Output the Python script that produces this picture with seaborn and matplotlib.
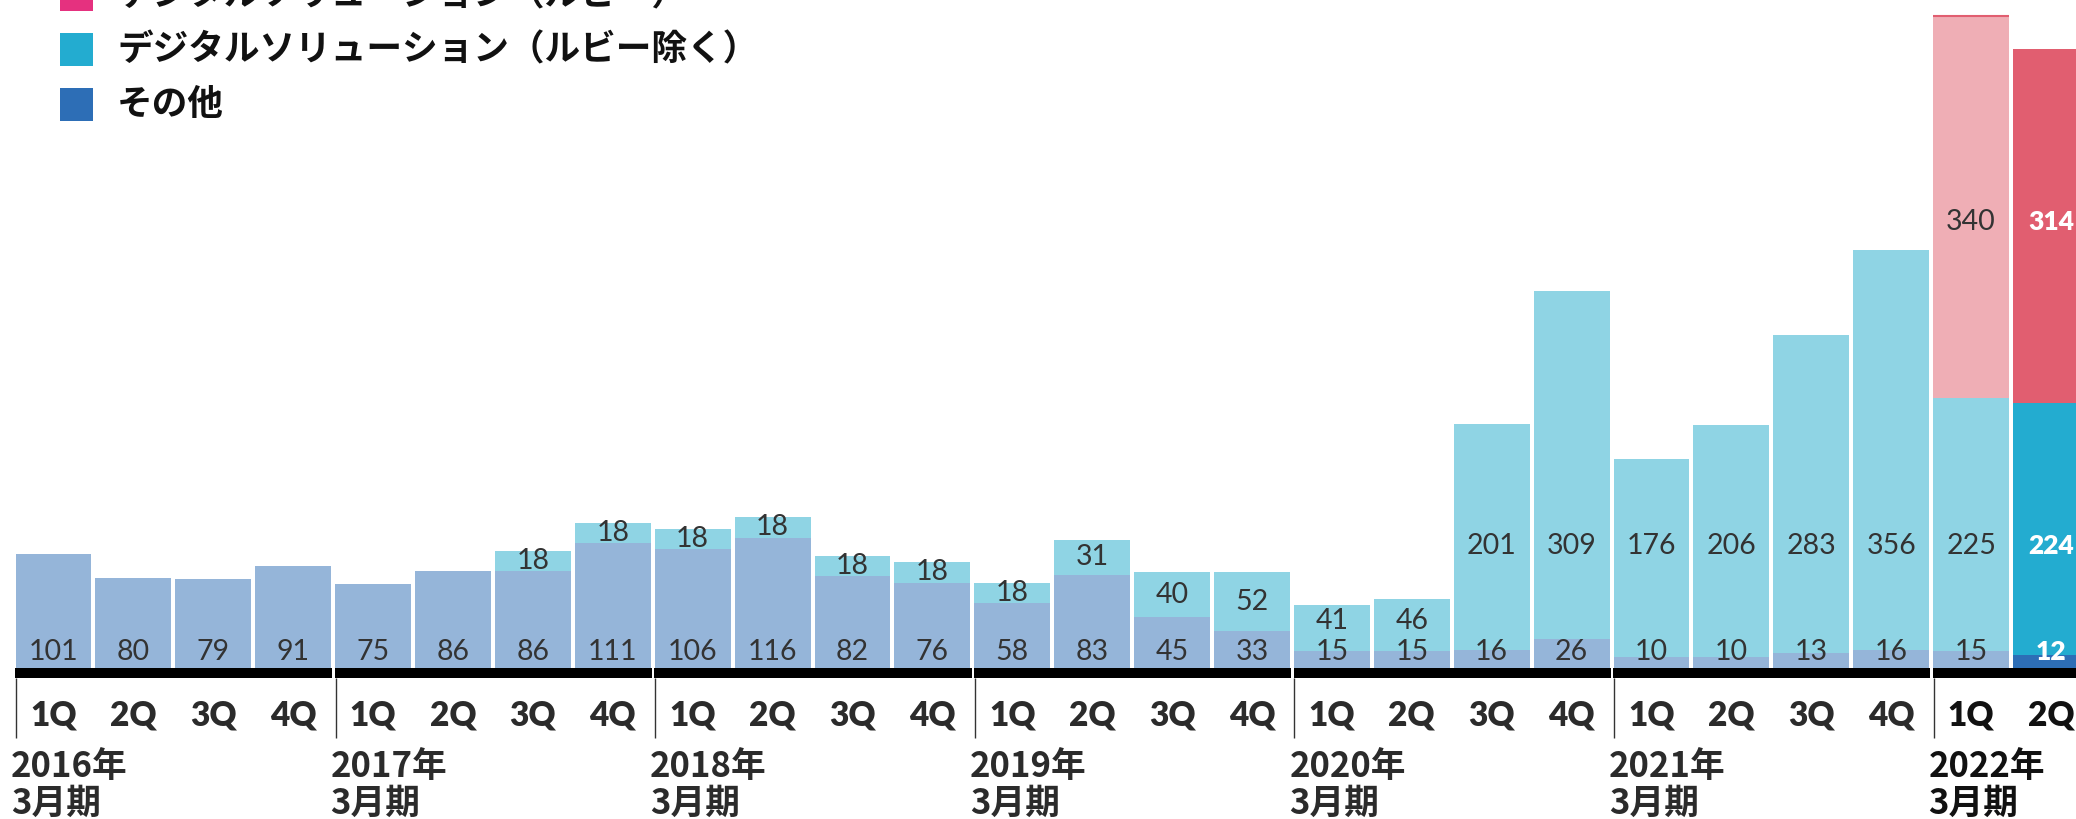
import numpy as np
import pandas as pd
import matplotlib
matplotlib.use("Agg")
import matplotlib.pyplot as plt
import seaborn as sns
from matplotlib.patches import Rectangle

# ---- data -------------------------------------------------------------
fiscal_years = ["2016年", "2017年", "2018年", "2019年", "2020年", "2021年", "2022年"]
period_suffix = "3月期"
quarters = ["1Q", "2Q", "3Q", "4Q"]

other = [101, 80, 79, 91, 75, 86, 86, 111, 106, 116, 82, 76, 58, 83, 45, 33,
         15, 15, 16, 26, 10, 10, 13, 16, 15, 12]
digital_ex_ruby = [0, 0, 0, 0, 0, 0, 18, 18, 18, 18, 18, 18, 18, 31, 40, 52,
                   41, 46, 201, 309, 176, 206, 283, 356, 225, 224]
digital_ruby = [0] * 24 + [340, 314]

series_names = ["デジタルソリューション（ルビー）",
                "デジタルソリューション（ルビー除く）",
                "その他"]
legend_colors = ["#e5317f", "#23acd0", "#2d6eb6"]
full_colors = {"ruby": "#e15e70", "ds": "#23acd0", "other": "#2d6eb6"}
pale_colors = {"ruby": "#efaeb5", "ds": "#8fd4e4", "other": "#95b5d9"}

# ---- layout helpers (pixel -> data) -----------------------------------
W, H = 2076, 819
BASE_PX = 668.0        # baseline, px from top
PX_PER_UNIT = 1.125
PITCH = 79.9           # px between bar centres
X0 = 53.5              # centre of first bar, px
BAR_W = 0.951


def fx(px):
    return (px - X0) / PITCH


def fy(py):
    return (BASE_PX - py) / PX_PER_UNIT


sns.set_theme(style="white")
plt.rcParams["font.family"] = ["Lato", "Noto Sans CJK JP", "DejaVu Sans"]

n = len(other)
keys = []
for fy_label in fiscal_years:
    for q in quarters:
        keys.append(f"{fy_label}{q}")
keys = keys[:n]
q_labels = [k[-2:] for k in keys]
highlight = [i == n - 1 for i in range(n)]

df = pd.DataFrame({"period": keys, "other": other,
                   "ds": digital_ex_ruby, "ruby": digital_ruby})
df["lvl_other"] = df["other"]
df["lvl_ds"] = df["other"] + df["ds"]
df["lvl_ruby"] = df["lvl_ds"] + df["ruby"]

fig = plt.figure(figsize=(W / 100, H / 100), dpi=100)
ax = fig.add_axes([0, 0, 1, 1])

# stacked bars: cumulative levels drawn from the tallest down
for lvl, seg in [("lvl_ruby", "ruby"), ("lvl_ds", "ds"), ("lvl_other", "other")]:
    heights = df[lvl].where(df[seg] > 0, 0)
    pal = {k: (full_colors[seg] if hl else pale_colors[seg])
           for k, hl in zip(keys, highlight)}
    sns.barplot(x=df["period"], y=heights, hue=df["period"], order=keys,
                hue_order=keys, palette=pal, width=BAR_W, dodge=False,
                saturation=1, linewidth=0, errorbar=None, legend=False, ax=ax)

# thin accent on the top edge of the earlier ruby bar
ruby_idx = [i for i, r in enumerate(digital_ruby) if r > 0 and not highlight[i]]
ax.hlines(df.loc[ruby_idx, "lvl_ruby"], np.array(ruby_idx) - BAR_W / 2,
          np.array(ruby_idx) + BAR_W / 2, color=full_colors["ruby"], lw=1.5)

# value labels
bottom_label_y = fy(651.5)
for i in range(n):
    hl = highlight[i]
    col = "white" if hl else "#333333"
    wt = "heavy" if hl else "normal"
    kw = dict(ha="center", va="center", fontsize=19 if hl else 20.5,
              color=col, fontweight=wt, family="Lato")
    ax.text(i, bottom_label_y, str(other[i]), **kw)
    d = digital_ex_ruby[i]
    if d > 0:
        if d < 100:
            y = max(other[i] + d / 2, bottom_label_y + 27)
        else:
            y = fy(546)
        ax.text(i, y, str(d), **kw)
    r = digital_ruby[i]
    if r > 0:
        y = other[i] + d + r / 2 if r < 100 else fy(222)
        ax.text(i, y, str(r), **kw)

# fiscal-year axis: black band, separators, quarter and year labels
half = BAR_W / 2
for k, fy_label in enumerate(fiscal_years):
    first = 4 * k
    last = min(4 * k + 3, n - 1)
    if first >= n:
        break
    left = first - half
    right = last + half
    ax.add_patch(Rectangle((left - 0.005, fy(678)), right - left + 0.02,
                           fy(668) - fy(678), color="black", lw=0, zorder=3))
    ax.plot([left + 0.006, left + 0.006], [fy(678), fy(738)],
            color="#333333", lw=1.0, solid_capstyle="butt")
    tcol = "#111111" if last == n - 1 else "#2b2b2b"
    ax.text(fx(11) + first, fy(766), fy_label, ha="left", va="center",
            fontsize=25, fontweight="bold", color=tcol,
            family=["Noto Sans CJK JP"])
    ax.text(fx(11) + first, fy(803.5), period_suffix, ha="left", va="center",
            fontsize=25, fontweight="bold", color=tcol,
            family=["Noto Sans CJK JP"])
    for i in range(first, last + 1):
        ax.text(i, fy(715.5), q_labels[i], ha="center", va="center",
                fontsize=24, fontweight="heavy", color=tcol, family="Lato")

# legend
for j, (name, c) in enumerate(zip(series_names, legend_colors)):
    top = -22 + 55 * j
    ax.add_patch(Rectangle((fx(60), fy(top + 33)), fx(93) - fx(60),
                           fy(top) - fy(top + 33), color=c, lw=0))
    ax.text(fx(117), fy(top + 16.5), name, ha="left", va="center",
            fontsize=25.7, fontweight="bold", color="#111111",
            family=["Noto Sans CJK JP"])

ax.set_xlim(fx(0), fx(W))
ax.set_ylim(fy(H), fy(0))
ax.set_axis_off()

fig.savefig("out.png", dpi=100)
